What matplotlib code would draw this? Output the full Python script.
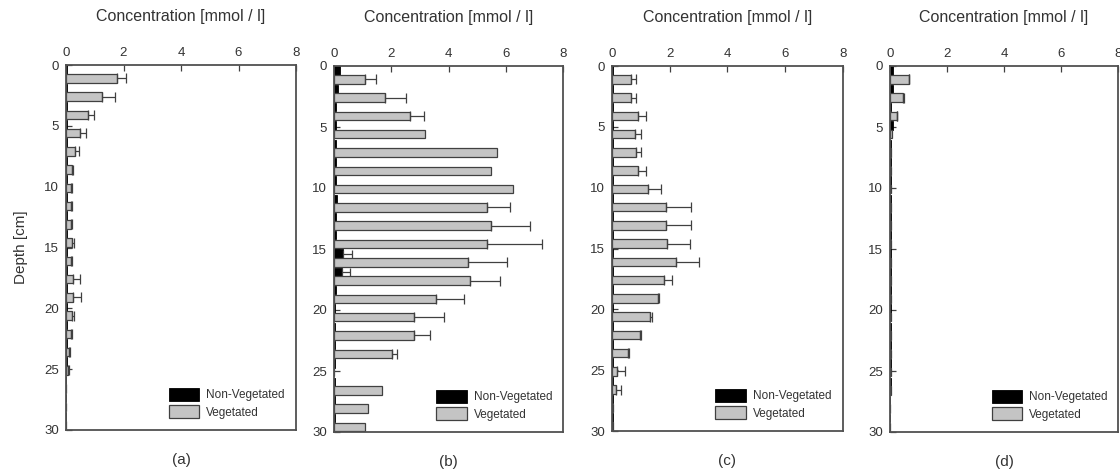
import matplotlib
matplotlib.use("Agg")
import matplotlib.pyplot as plt
import numpy as np

plt.rcParams['font.family'] = ['Liberation Sans', 'DejaVu Sans']

# depth of the top of each 1.5 cm layer
depths = [0, 1.5, 3, 4.5, 6, 7.5, 9, 10.5, 12, 13.5,
          15, 16.5, 18, 19.5, 21, 22.5, 24, 25.5, 27, 28.5]

panel_labels = ['(a)', '(b)', '(c)', '(d)']

# (a)
a_non = [0.05, 0.05, 0.05, 0.05, 0.05, 0.05, 0.05, 0.05, 0.05, 0.05,
         0.05, 0.05, 0.05, 0.05, 0.05, 0.05, 0.05, 0, 0, 0]
a_non_err = [0] * 20
a_veg = [1.76, 1.24, 0.78, 0.49, 0.31, 0.2, 0.18, 0.18, 0.18, 0.2,
         0.17, 0.25, 0.25, 0.2, 0.17, 0.12, 0.08, 0, 0, 0]
a_veg_err = [0.31, 0.46, 0.2, 0.2, 0.14, 0.05, 0.03, 0.03, 0.04, 0.08,
             0.05, 0.24, 0.27, 0.07, 0.05, 0.02, 0.02, 0, 0, 0]

# (b)
b_non = [0.2, 0.14, 0.08, 0.08, 0.06, 0.06, 0.06, 0.1, 0.06, 0.06,
         0.31, 0.29, 0.06, 0.04, 0.04, 0.04, 0.04, 0.03, 0.03, 0.03]
b_non_err = [0, 0, 0, 0, 0, 0, 0, 0, 0, 0,
             0.33, 0.26, 0, 0, 0, 0, 0, 0, 0, 0]
b_veg = [1.07, 1.77, 2.67, 3.17, 5.68, 5.5, 6.24, 5.33, 5.5, 5.33,
         4.69, 4.74, 3.56, 2.79, 2.79, 2.04, 0, 1.66, 1.19, 1.1]
b_veg_err = [0.41, 0.73, 0.48, 0, 0, 0, 0, 0.81, 1.34, 1.92,
             1.36, 1.06, 0.97, 1.05, 0.56, 0.16, 0, 0, 0, 0]

# (c)
c_non = [0.04, 0.04, 0.04, 0.04, 0.04, 0.04, 0.04, 0.04, 0.04, 0.04,
         0.04, 0.04, 0.04, 0.04, 0.04, 0.04, 0.04, 0.04, 0.04, 0.04]
c_non_err = [0] * 20
c_veg = [0.67, 0.67, 0.9, 0.78, 0.82, 0.9, 1.25, 1.86, 1.86, 1.9,
         2.2, 1.79, 1.59, 1.33, 0.98, 0.55, 0.17, 0.13, 0.05, 0.05]
c_veg_err = [0.15, 0.15, 0.29, 0.21, 0.17, 0.27, 0.46, 0.89, 0.86, 0.79,
             0.81, 0.3, 0.05, 0.05, 0.02, 0.03, 0.27, 0.19, 0, 0]

# (d)
d_non = [0.1, 0.12, 0.05, 0.1, 0.04, 0.04, 0.04, 0.04, 0.04, 0.04,
         0.04, 0.04, 0.04, 0.04, 0.04, 0.04, 0.05, 0.05, 0, 0]
d_non_err = [0] * 20
d_veg = [0.66, 0.47, 0.23, 0.06, 0.03, 0.02, 0.02, 0.02, 0.02, 0.02,
         0.02, 0.02, 0.02, 0.02, 0.02, 0.02, 0.03, 0.02, 0, 0]
d_veg_err = [0.02, 0.02, 0.03, 0, 0, 0, 0, 0, 0, 0,
             0, 0, 0, 0, 0, 0, 0, 0, 0, 0]

panels = [
    (a_non, a_non_err, a_veg, a_veg_err),
    (b_non, b_non_err, b_veg, b_veg_err),
    (c_non, c_non_err, c_veg, c_veg_err),
    (d_non, d_non_err, d_veg, d_veg_err),
]

# axes boxes in pixels: left, top, right, bottom
boxes = [(66, 65, 296, 430), (334, 66, 563, 432),
         (612, 66, 843, 431), (890, 66, 1118, 432)]

W, H = 1120, 475
fig = plt.figure(figsize=(W / 100, H / 100), dpi=100)

txt = '#333333'
edge = '#404040'
veg_col = '#c4c4c4'

for k, (non, non_err, veg, veg_err) in enumerate(panels):
    l, t, r, b = boxes[k]
    ax = fig.add_axes([l / W, 1 - b / H, (r - l) / W, (b - t) / H])
    d = np.array(depths)
    ax.barh(d + 0.04, non, height=0.68, align='edge', color='black',
            edgecolor='black', linewidth=0.6, label='Non-Vegetated', zorder=2)
    ax.barh(d + 0.74, veg, height=0.7, align='edge', color=veg_col,
            edgecolor=edge, linewidth=0.9, label='Vegetated', zorder=2)
    # one-sided error bars
    for dd, v, e in zip(d + 0.38, non, non_err):
        if e > 0:
            ax.errorbar(v, dd, xerr=[[0], [e]], fmt='none', ecolor=edge,
                        elinewidth=0.9, capsize=3, capthick=0.9, zorder=3)
    for dd, v, e in zip(d + 1.09, veg, veg_err):
        if e > 0:
            ax.errorbar(v, dd, xerr=[[0], [e]], fmt='none', ecolor=edge,
                        elinewidth=0.9, capsize=3.5, capthick=0.9, zorder=3)

    ax.set_xlim(0, 8)
    ax.set_ylim(30, 0)
    ax.set_xticks([0, 2, 4, 6, 8])
    ax.set_yticks([0, 5, 10, 15, 20, 25, 30])
    ax.xaxis.tick_top()
    ax.xaxis.set_label_position('top')
    ax.tick_params(axis='both', direction='in', length=4, width=0.9,
                   colors=edge, labelcolor=txt, labelsize=9.5, pad=4)
    ax.tick_params(axis='y', pad=5)
    for s in ax.spines.values():
        s.set_color('#505050')
        s.set_linewidth(1.3)
    ax.set_xlabel('Concentration [mmol / l]', fontsize=11.5, color=txt,
                  labelpad=19)
    if k == 0:
        ax.set_ylabel('Depth [cm]', fontsize=11, color=txt, labelpad=12)
    ax.text(0.5, -0.083, panel_labels[k], transform=ax.transAxes,
            ha='center', va='center', fontsize=11, color=txt)
    ax.legend(loc='lower left', bbox_to_anchor=(0.42, 0.015), frameon=False,
              borderpad=0, fontsize=8.5, handlelength=2.6, handleheight=1.3,
              handletextpad=0.6, labelspacing=0.35, labelcolor=txt)

fig.savefig('out.png', dpi=100)
